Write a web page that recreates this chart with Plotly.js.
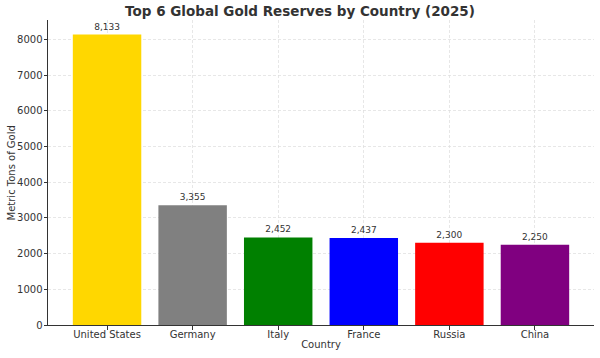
<!DOCTYPE html>
<html><head><meta charset="utf-8">
<script src="https://cdn.plot.ly/plotly-3.0.1.min.js"></script>
<style>html,body{margin:0;padding:0;background:#fff;}#chart{width:600px;height:358px;}</style>
</head><body><div id="chart"></div>
<script>
const countries = ["United States", "Germany", "Italy", "France", "Russia", "China"];
const tons = [8133, 3355, 2452, 2437, 2300, 2250];
const barColors = ["#FFD700", "#808080", "#008000", "#0000FF", "#FF0000", "#800080"];
const yTicks = [0, 1000, 2000, 3000, 4000, 5000, 6000, 7000, 8000];

const trace = {
  type: "bar",
  x: countries,
  y: tons,
  marker: {color: barColors, line: {width: 0}},
  width: 0.8,
  text: tons.map(v => v.toLocaleString("en-US")),
  textposition: "outside",
  cliponaxis: false,
  textfont: {family: "DejaVu Sans", size: 9, color: "#333333"},
  hoverinfo: "none"
};

const layout = {
  width: 600, height: 358,
  margin: {l: 48, r: 6, t: 20, b: 33},
  paper_bgcolor: "#ffffff", plot_bgcolor: "#ffffff",
  font: {family: "DejaVu Sans", color: "#333333"},
  title: {text: "<b>Top 6 Global Gold Reserves by Country (2025)</b>", font: {size: 13.5, color: "#333333"}, x: 0.5, xanchor: "center", y: 0.982, yanchor: "top"},
  bargap: 0.2,
  showlegend: false,
  xaxis: {
    range: [-0.69, 5.69],
    showline: true, linecolor: "#333333", linewidth: 1,
    ticks: "outside", ticklen: 3.5, tickcolor: "#333333",
    tickfont: {size: 10, color: "#333333"},
    ticklabelstandoff: -4,
    showgrid: true, gridcolor: "#dddddd", griddash: "3px,2px", gridwidth: 0.7,
    title: {text: "Country", font: {size: 10, color: "#333333"}, standoff: 2},
    zeroline: false
  },
  yaxis: {
    range: [0, 8540],
    tickvals: yTicks,
    ticktext: yTicks.map(String),
    showline: true, linecolor: "#333333", linewidth: 1,
    ticks: "outside", ticklen: 3.5, tickcolor: "#333333",
    tickfont: {size: 10, color: "#333333"},
    ticklabelstandoff: -1,
    showgrid: true, gridcolor: "#dddddd", griddash: "3px,2px", gridwidth: 0.7,
    zeroline: false
  },
  annotations: [{
    text: "Metric Tons of Gold", textangle: -90,
    xref: "paper", yref: "paper", x: -0.066, y: 0.5,
    xanchor: "center", yanchor: "middle", showarrow: false,
    font: {size: 10, color: "#333333"}
  }]
};

Plotly.newPlot("chart", [trace], layout, {displayModeBar: false, staticPlot: true});
</script></body></html>
